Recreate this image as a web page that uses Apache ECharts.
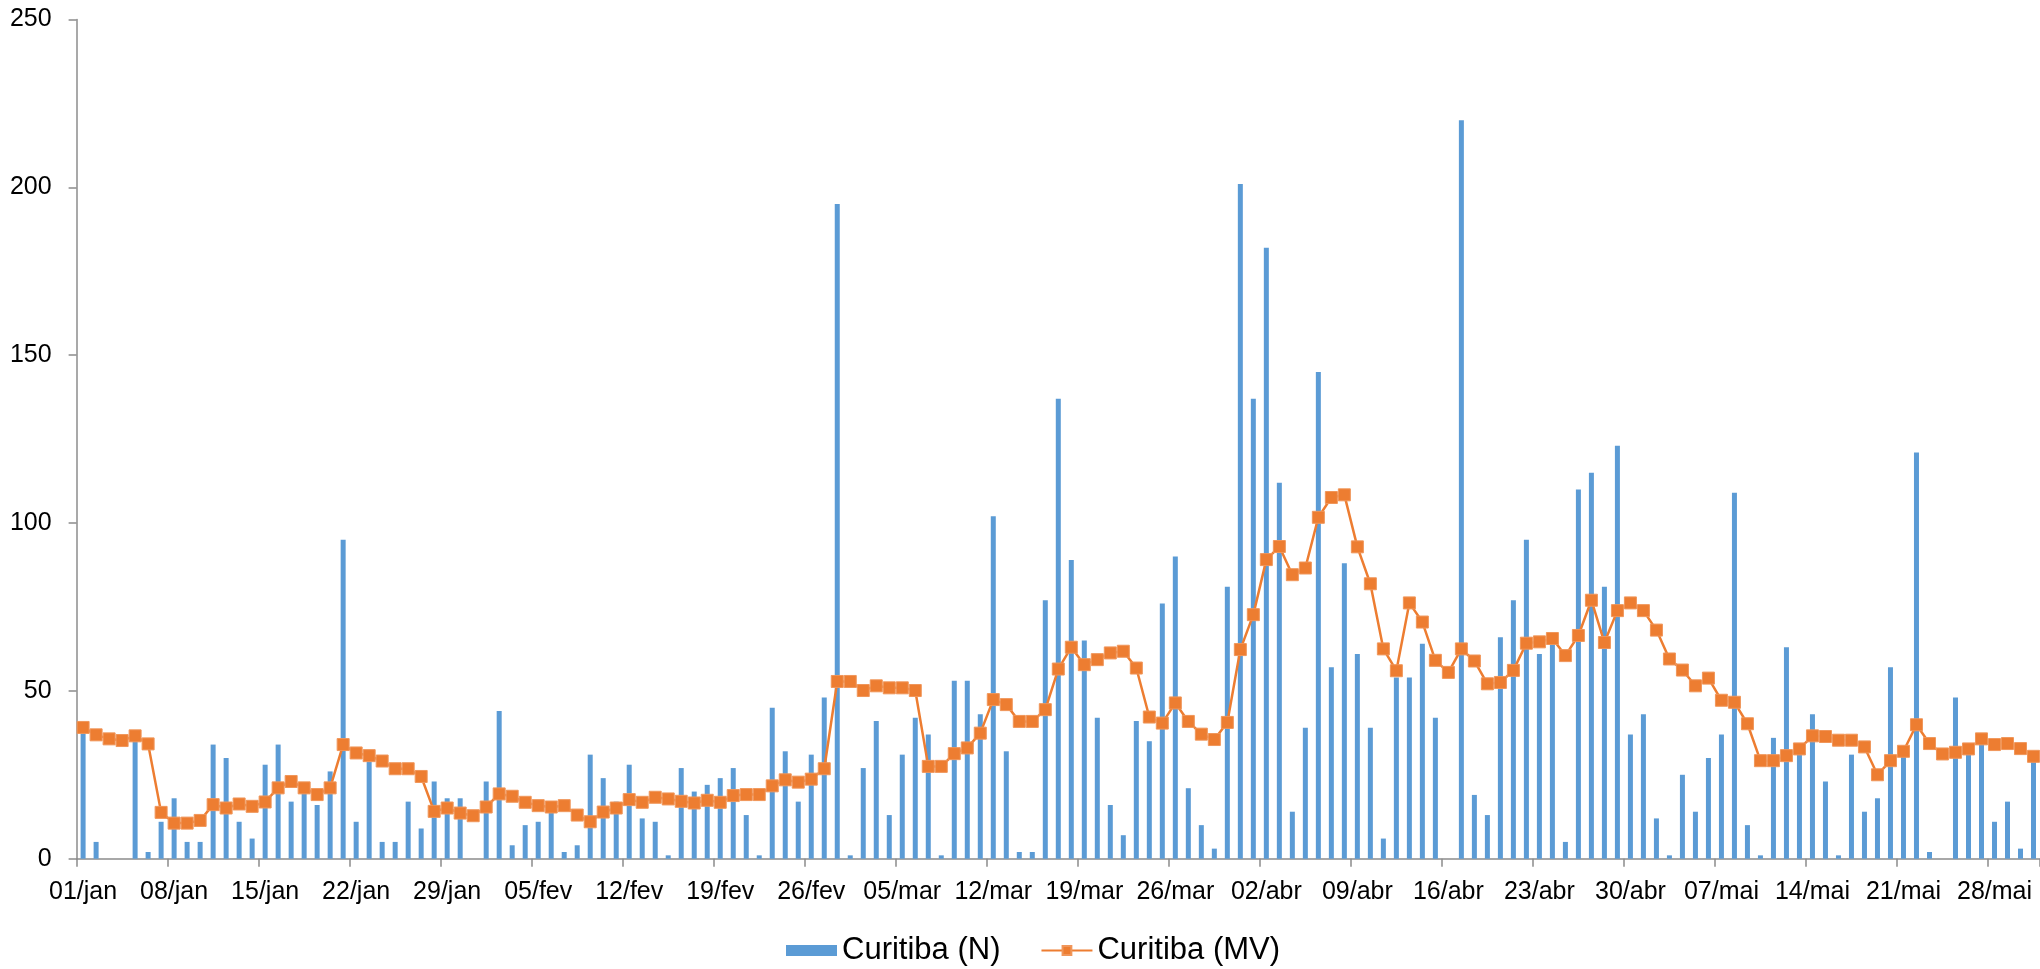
<!DOCTYPE html>
<html>
<head>
<meta charset="utf-8">
<script src="https://cdn.jsdelivr.net/npm/echarts@6/dist/echarts.min.js"></script>
<style>
html,body{margin:0;padding:0;background:#fff;}
#chart{width:2040px;height:969px;}
</style>
</head>
<body>
<div id="chart"></div>
<script>
// Month names and lengths used to build the daily category labels (01/jan .. 31/mai)
const monthNames = ['jan', 'fev', 'mar', 'abr', 'mai'];
const monthDays = [31, 28, 31, 30, 31];

// Curitiba (N) - daily values
const seriesN = [
  38, 5, 0, 0, 36, 2, 11, 18, 5, 5,
  34, 30, 11, 6, 28, 34, 17, 20, 16, 26,
  95, 11, 29, 5, 5, 17, 9, 23, 18, 18,
  0, 23, 44, 4, 10, 11, 15, 2, 4, 31,
  24, 17, 28, 12, 11, 1, 27, 20, 22, 24,
  27, 13, 1, 45, 32, 17, 31, 48, 195, 1,
  27, 41, 13, 31, 42, 37, 1, 53, 53, 43,
  102, 32, 2, 2, 77, 137, 89, 65, 42, 16,
  7, 41, 35, 76, 90, 21, 10, 3, 81, 201,
  137, 182, 112, 14, 39, 145, 57, 88, 61, 39,
  6, 54, 54, 64, 42, 0, 220, 19, 13, 66,
  77, 95, 61, 64, 5, 110, 115, 81, 123, 37,
  43, 12, 1, 25, 14, 30, 37, 109, 10, 1,
  36, 63, 32, 43, 23, 1, 31, 14, 18, 57,
  31, 121, 2, 0, 48, 32, 35, 11, 17, 3,
  29
];

// Curitiba (MV) - moving value line
const seriesMV = [
  39.1, 36.9, 35.7, 35.2, 36.6, 34.2, 13.8, 10.6, 10.6, 11.4,
  16.1, 15.1, 16.3, 15.6, 16.9, 21.1, 23.0, 21.1, 19.1, 21.1,
  34.0, 31.5, 30.7, 29.1, 26.8, 26.8, 24.5, 14.1, 15.1, 13.6,
  12.8, 15.4, 19.3, 18.6, 16.8, 15.8, 15.4, 15.8, 13.0, 11.0,
  13.9, 15.1, 17.6, 16.8, 18.3, 17.8, 17.1, 16.6, 17.4, 16.8,
  18.8, 19.1, 19.1, 21.7, 23.5, 22.8, 23.7, 26.8, 52.8, 52.8,
  50.1, 51.5, 50.9, 50.9, 50.1, 27.5, 27.5, 31.3, 33.0, 37.4,
  47.4, 45.9, 40.9, 40.9, 44.4, 56.5, 63.0, 57.8, 59.3, 61.3,
  61.8, 56.8, 42.2, 40.4, 46.4, 40.9, 37.1, 35.5, 40.6, 62.3,
  72.7, 89.1, 93.0, 84.6, 86.6, 101.7, 107.6, 108.4, 92.9, 81.9,
  62.5, 56.0, 76.2, 70.5, 59.1, 55.5, 62.5, 58.9, 52.1, 52.5,
  56.1, 64.2, 64.6, 65.6, 60.5, 66.5, 77.0, 64.4, 73.9, 76.2,
  73.9, 68.1, 59.5, 56.2, 51.5, 53.8, 47.2, 46.6, 40.2, 29.2,
  29.2, 30.7, 32.7, 36.6, 36.4, 35.3, 35.3, 33.3, 25.0, 29.2,
  32.0, 39.9, 34.3, 31.2, 31.7, 32.7, 35.7, 34.0, 34.3, 32.8,
  30.5
];

const seriesNames = ['Curitiba (N)', 'Curitiba (MV)'];
const yTicks = [0, 50, 100, 150, 200, 250];

const categories = [];
monthNames.forEach(function (m, mi) {
  for (let d = 1; d <= monthDays[mi]; d++) {
    categories.push((d < 10 ? '0' + d : '' + d) + '/' + m);
  }
});

const chart = echarts.init(document.getElementById('chart'), null, {renderer: 'canvas'});
const FONT = 'Liberation Sans';
const axisGray = '#8c8c8c';

chart.setOption({
  animation: false,
  backgroundColor: '#ffffff',
  textStyle: {fontFamily: FONT},
  grid: {left: 76.6, top: 19.5, width: 1970.6, bottom: 110.3, containLabel: false},
  legend: {
    data: [{name: seriesNames[0], icon: 'rect'}, {name: seriesNames[1]}],
    left: 786,
    top: 935,
    padding: 0,
    itemWidth: 51,
    itemHeight: 11,
    itemGap: 40,
    textStyle: {fontFamily: FONT, fontSize: 31, color: '#000'}
  },
  xAxis: {
    type: 'category',
    data: categories,
    boundaryGap: true,
    axisLine: {lineStyle: {color: axisGray, width: 1.5}},
    axisTick: {show: true, interval: 6, length: 8, alignWithLabel: false, lineStyle: {color: axisGray, width: 1.5}},
    axisLabel: {interval: 6, margin: 21, fontFamily: FONT, fontSize: 25, color: '#000'},
    splitLine: {show: false}
  },
  yAxis: {
    type: 'value',
    min: yTicks[0],
    max: yTicks[yTicks.length - 1],
    interval: 50,
    axisLine: {show: true, lineStyle: {color: axisGray, width: 1.5}},
    axisTick: {show: true, length: 8, lineStyle: {color: axisGray, width: 1.5}},
    axisLabel: {margin: 25, fontFamily: FONT, fontSize: 25, color: '#000'},
    splitLine: {show: false}
  },
  series: [
    {
      name: seriesNames[0],
      type: 'bar',
      data: seriesN,
      barWidth: 5,
      itemStyle: {color: '#5B9BD5'},
      z: 2
    },
    {
      name: seriesNames[1],
      type: 'line',
      data: seriesMV,
      symbol: 'rect',
      symbolSize: 12,
      showAllSymbol: true,
      lineStyle: {color: '#ED7D31', width: 2.5},
      itemStyle: {color: '#ED7D31', borderColor: '#F0965A', borderWidth: 1},
      z: 3
    }
  ]
});
</script>
</body>
</html>
